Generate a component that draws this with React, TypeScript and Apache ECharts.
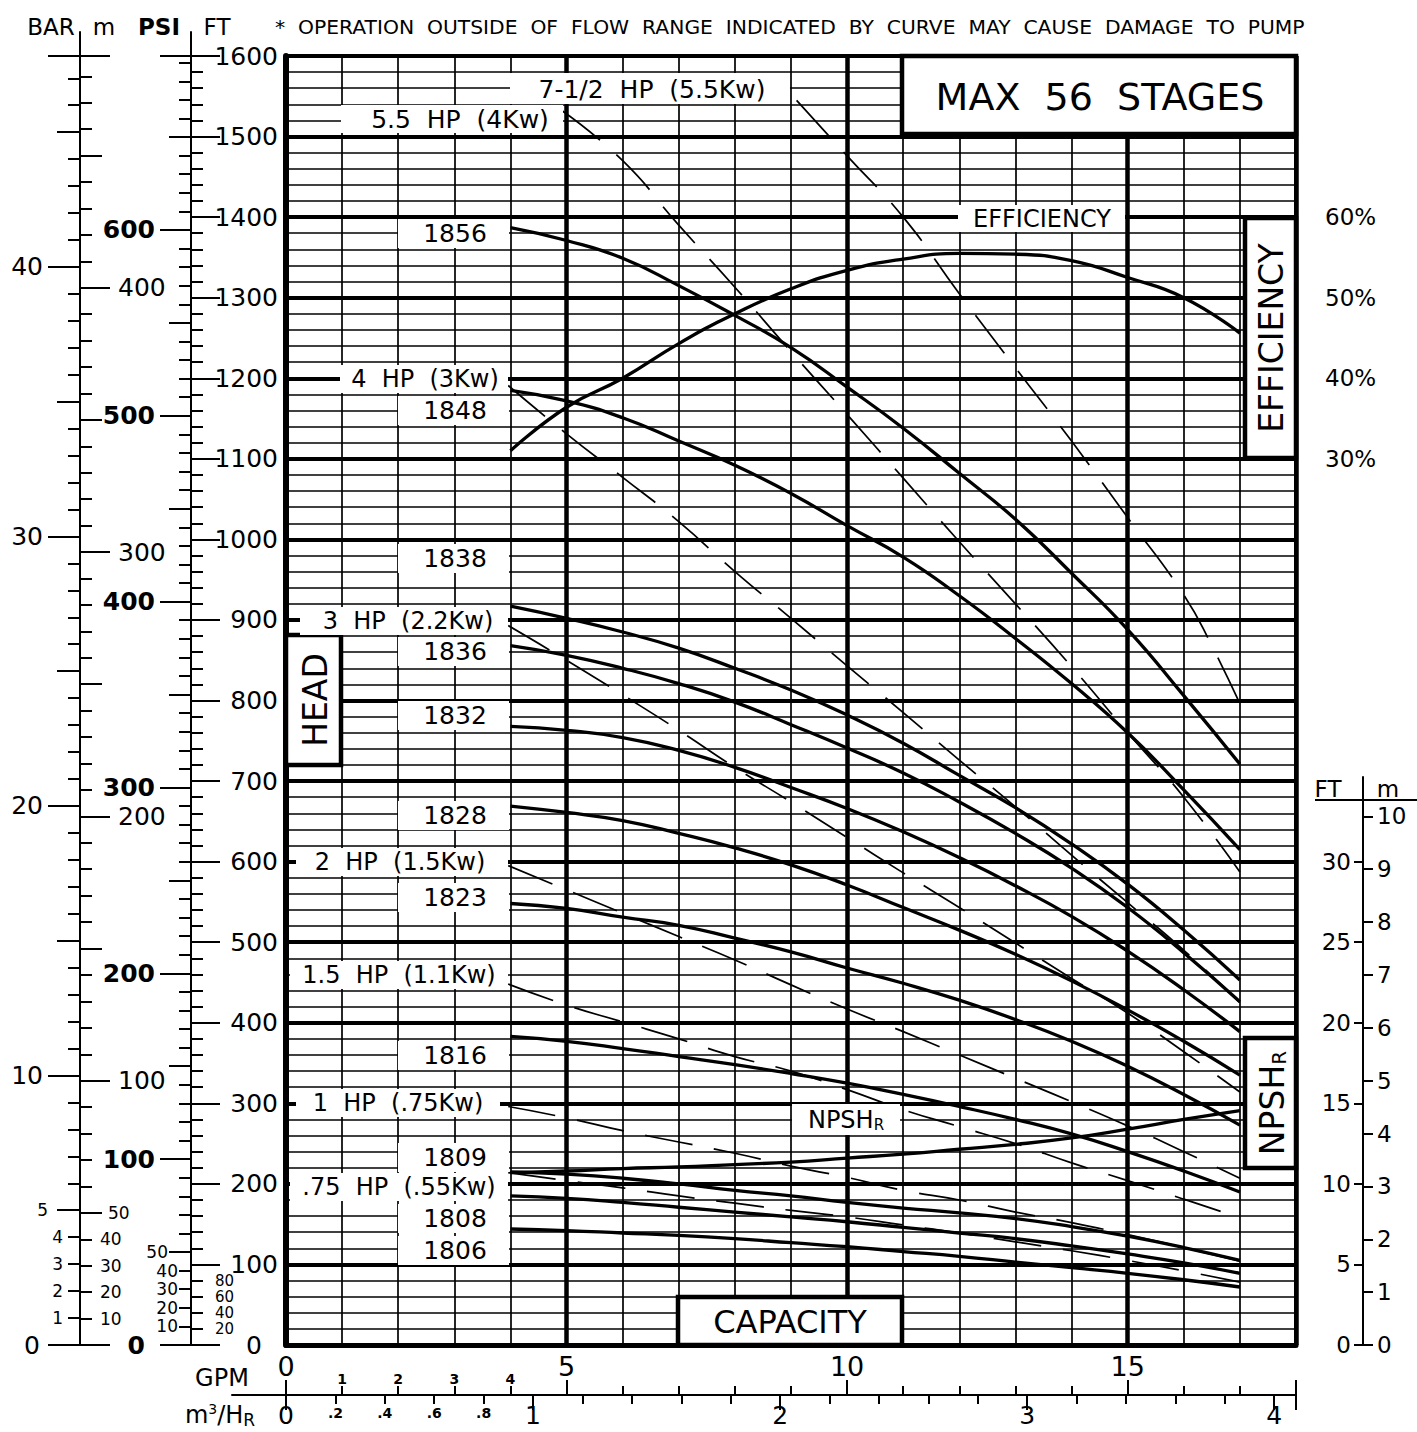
import React, { useEffect, useRef } from "react";
import * as echarts from "echarts";

// ---------------- data ----------------
const GPM_POINTS = [4, 5, 6, 7, 8, 9, 10, 11, 12, 13, 14, 15, 16, 17];
const HEAD_1856 = [1387, 1371, 1349, 1315, 1278, 1238, 1189, 1138, 1082, 1025, 958, 888, 806, 721];
const HEAD_1848 = [1185, 1172, 1151, 1122, 1092, 1057, 1017, 978, 930, 877, 821, 760, 689, 615];
const HEAD_1838 = [917, 902, 885, 865, 840, 813, 782, 747, 707, 667, 622, 572, 515, 453];
const HEAD_1836 = [868, 856, 840, 821, 798, 770, 741, 710, 674, 635, 592, 543, 487, 426];
const HEAD_1832 = [768, 763, 754, 738, 717, 692, 666, 637, 605, 570, 532, 489, 441, 389];
const HEAD_1828 = [669, 661, 651, 635, 617, 596, 571, 543, 515, 485, 452, 416, 377, 335];
const HEAD_1823 = [548, 542, 531, 521, 505, 488, 468, 449, 428, 404, 377, 346, 311, 273];
const HEAD_1816 = [383, 377, 368, 358, 348, 337, 325, 311, 296, 280, 262, 240, 216, 190];
const HEAD_1809 = [215, 212, 207, 200, 192, 185, 177, 170, 164, 157, 147, 135, 121, 105];
const HEAD_1808 = [185, 182, 177, 171, 165, 159, 153, 146, 139, 132, 123, 113, 102, 89];
const HEAD_1806 = [144, 142, 139, 136, 132, 127, 122, 116, 110, 103, 96, 89, 81, 72];
const EFFICIENCY_PCT = [31.0, 36.4, 40.0, 44.3, 48.0, 51.1, 53.4, 54.8, 55.5, 55.4, 54.6, 52.5, 50.0, 45.6];
const NPSHR_FT = [10.7, 10.8, 10.95, 11.05, 11.2, 11.35, 11.6, 11.85, 12.15, 12.45, 12.85, 13.4, 14.0, 14.55];

const HP_7_5_GPM = [9.1, 10, 11, 12, 13, 14, 15, 16, 16.5, 17];
const HP_7_5_FT = [1545, 1476, 1400, 1305, 1213, 1122, 1027, 931, 868, 796];
const HP_5_5_GPM = [4.92, 6, 7, 8, 9, 10, 11, 12, 13, 14, 15, 16, 17];
const HP_5_5_FT = [1532, 1470, 1390, 1313, 1233, 1155, 1076, 997, 920, 842, 760, 680, 587];
const HP_GPM = [3.96, 5, 6, 7, 8, 9, 10, 11, 12, 13, 14, 15, 16, 17];
const HP_4_FT = [1191, 1131, 1077, 1022, 960, 902, 843, 785, 726, 668, 608, 549, 490, 425];
const HP_3_FT = [893, 850, 807, 763, 717, 674, 630, 586, 543, 499, 455, 412, 364, 314];
const HP_2_FT = [595, 565, 536, 507, 478, 447, 417, 389, 360, 331, 302, 272, 240, 207];
const HP_1_5_FT = [448, 422, 401, 380, 358, 340, 317, 292, 271, 250, 226, 204, 181, 158];
const HP_1_FT = [296, 282, 266, 252, 238, 222, 208, 192, 180, 165, 152, 137, 121, 104];
const HP_0_75_FT = [214, 204, 195, 185, 176, 167, 159, 149, 139, 128, 117, 105, 92, 78];

// tick labels
const FT_SMALL_LABELS = [20, 40, 60, 80];
const PSI_SMALL_LABELS = [10, 20, 30, 40, 50];
const BAR_SMALL_LABELS = [1, 2, 3, 4, 5];
const M_SMALL_LABELS = [10, 20, 30, 40, 50];
const GPM_BIG_LABELS = [0, 5, 10, 15];
const GPM_SMALL_LABELS = [1, 2, 3, 4];
const M3H_BIG_LABELS = [0, 1, 2, 3, 4];
const M3H_SMALL_LABELS = [0.2, 0.4, 0.6, 0.8];
const EFF_LABELS = [30, 40, 50, 60];

// unit conversions
const FT_MAX = 1600;
const FT_PER_PSI = 2.3067;
const M_PER_FT = 0.3048;
const M_PER_BAR = 10.197;
const GPM_PER_M3H = 4.4029;
const GPM_MAX = 18;

const HEADER_NOTE = "*  OPERATION  OUTSIDE  OF  FLOW  RANGE  INDICATED  BY  CURVE  MAY  CAUSE  DAMAGE  TO  PUMP";

const FONT = "DejaVu Sans";
const BLACK = "#000";

const isInt = (v: number) => Math.abs(v - Math.round(v)) < 1e-6;

function buildOption() {
  const L = 286, T = 56, R = 1296, B = 1345;
  const PW = R - L, PH = B - T;
  const pxPerFt = PH / FT_MAX;
  const npshPx = pxPerFt * 20;

  const grid = [
    { left: L, top: T, width: PW, height: PH },
    { left: L, top: 32, width: PW, height: B - 32 },
    { left: 232, top: T, width: R - 232, height: PH },
    { left: L, top: 777, width: PW, height: B - 777 },
    { left: L, top: B - 30 * npshPx, width: PW, height: 30 * npshPx },
    { left: L, top: B - (10 / M_PER_FT) * npshPx, width: PW, height: (10 / M_PER_FT) * npshPx },
  ].map((g) => ({ ...g, show: false, containLabel: false, outerBoundsMode: "none" }));

  const base: any = {
    type: "value",
    min: 0,
    gridIndex: 0,
    axisLine: { show: false, onZero: false },
    axisTick: { show: false },
    axisLabel: { show: false },
    splitLine: { show: false },
    minorTick: { show: false },
    minorSplitLine: { show: false },
    splitArea: { show: false },
    silent: true,
  };
  const ax = (o: any) => ({ ...base, ...o });
  const lineOn = (w: number) => ({ show: true, onZero: false, lineStyle: { color: BLACK, width: w } });
  const tk = (len: number, inside: boolean) => ({ show: true, inside, length: len, lineStyle: { color: BLACK, width: 2 } });
  const lbl = (o: any) => ({
    show: true,
    color: BLACK,
    fontFamily: FONT,
    hideOverlap: false,
    showMinLabel: true,
    showMaxLabel: true,
    ...o,
  });
  const dummy = (gi: number) => ({ type: "value", gridIndex: gi, show: false, min: 0, max: 1 });

  const PSI_MAX = FT_MAX / FT_PER_PSI;
  const M_MAX = FT_MAX * M_PER_FT;
  const BAR_MAX = M_MAX / M_PER_BAR;

  const ftFmt = (v: number) => {
    if (!isInt(v)) return "";
    const r = Math.round(v);
    if (r === 0) return "{z|0}";
    if (r % 100 === 0) return `{b|${r}}`;
    return "";
  };
  const ftSmallFmt = (v: number) => {
    if (!isInt(v)) return "";
    const r = Math.round(v);
    return FT_SMALL_LABELS.includes(r) ? `${r}` : "";
  };
  const psiFmt = (v: number) => {
    if (!isInt(v)) return "";
    const r = Math.round(v);
    if (r === 0) return "{z|0}";
    if (r % 100 === 0) return `{b|${r}}`;
    if (r === 50) return "{m|50}";
    if (PSI_SMALL_LABELS.includes(r)) return `{s|${r}}`;
    return "";
  };
  const barFmt = (v: number) => {
    if (!isInt(v)) return "";
    const r = Math.round(v);
    if (r === 0) return "{z|0}";
    if (r % 10 === 0) return `{b|${r}}`;
    if (r === 5) return "{m|5}";
    if (BAR_SMALL_LABELS.includes(r)) return `{s|${r}}`;
    return "";
  };
  const mFmt = (v: number) => {
    if (!isInt(v)) return "";
    const r = Math.round(v);
    if (r === 0) return "";
    if (r % 100 === 0) return `{b|${r}}`;
    if (r === 50) return "{m|50}";
    if (M_SMALL_LABELS.includes(r)) return `{s|${r}}`;
    return "";
  };
  const gpmFmt = (v: number) => {
    if (!isInt(v)) return "";
    const r = Math.round(v);
    if (GPM_BIG_LABELS.includes(r)) return `{b|${r}}`;
    if (GPM_SMALL_LABELS.includes(r)) return `{s|${r}}`;
    return "";
  };
  const m3hFmt = (v: number) => {
    const r10 = Math.round(v * 10);
    if (Math.abs(v * 10 - r10) > 1e-6) return "";
    if (r10 % 10 === 0 && M3H_BIG_LABELS.includes(r10 / 10)) return `{b|${r10 / 10}}`;
    if (M3H_SMALL_LABELS.some((s) => Math.round(s * 10) === r10)) return `{s|.${r10}}`;
    return "";
  };

  const yAxis: any[] = [
    // 0 FT minor (main head scale)
    ax({
      position: "left", offset: 95, max: FT_MAX, interval: 20,
      axisLine: lineOn(2), axisTick: tk(12, true),
      axisLabel: lbl({
        inside: true, align: "right", margin: 87, formatter: ftFmt,
        rich: {
          b: { fontSize: 25, fontFamily: FONT },
          z: { fontSize: 25, fontFamily: FONT, padding: [0, 16, 0, 0] },
        },
      }),
      splitLine: { show: true, lineStyle: { color: BLACK, width: 1.7 } },
    }),
    // 1 FT major
    ax({ position: "left", offset: 95, max: FT_MAX, interval: 100, axisTick: tk(29, true),
      splitLine: { show: true, lineStyle: { color: BLACK, width: 4 } } }),
    // 2-4 PSI
    ax({
      position: "left", offset: 95, max: PSI_MAX, interval: 10, axisTick: tk(12, false),
      axisLabel: lbl({
        margin: 13, formatter: psiFmt,
        rich: {
          b: { fontSize: 25, fontWeight: "bold", fontFamily: FONT, padding: [0, 23, 0, 0] },
          z: { fontSize: 25, fontWeight: "bold", fontFamily: FONT, padding: [0, 33, 0, 0] },
          m: { fontSize: 17, lineHeight: 17, fontFamily: FONT, padding: [0, 10, 0, 0] },
          s: { fontSize: 17, lineHeight: 17, fontFamily: FONT },
        },
      }),
    }),
    ax({ position: "left", offset: 95, max: PSI_MAX, interval: 50, axisTick: tk(22, false) }),
    ax({ position: "left", offset: 95, max: PSI_MAX, interval: 100, axisTick: tk(31, false) }),
    // 5-7 BAR
    ax({
      position: "left", offset: 206, max: BAR_MAX, interval: 1, axisLine: lineOn(2), axisTick: tk(12, false),
      axisLabel: lbl({
        margin: 17, formatter: barFmt,
        rich: {
          b: { fontSize: 25, fontFamily: FONT, padding: [0, 20, 0, 0] },
          z: { fontSize: 25, fontFamily: FONT, padding: [0, 23, 0, 0] },
          m: { fontSize: 17, lineHeight: 17, fontFamily: FONT, padding: [0, 15, 0, 0] },
          s: { fontSize: 17, lineHeight: 17, fontFamily: FONT },
        },
      }),
    }),
    ax({ position: "left", offset: 206, max: BAR_MAX, interval: 5, axisTick: tk(23, false) }),
    ax({ position: "left", offset: 206, max: BAR_MAX, interval: 10, axisTick: tk(32, false) }),
    // 8-10 metres
    ax({
      position: "left", offset: 206, max: M_MAX, interval: 10, axisTick: tk(12, true),
      axisLabel: lbl({
        inside: true, align: "left", margin: 20, formatter: mFmt,
        rich: {
          b: { fontSize: 25, fontFamily: FONT, padding: [0, 0, 0, 18] },
          m: { fontSize: 17, lineHeight: 17, fontFamily: FONT, padding: [0, 0, 0, 8] },
          s: { fontSize: 17, lineHeight: 17, fontFamily: FONT },
        },
      }),
    }),
    ax({ position: "left", offset: 206, max: M_MAX, interval: 50, axisTick: tk(22, true) }),
    ax({ position: "left", offset: 206, max: M_MAX, interval: 100, axisTick: tk(30, true) }),
    // 11 efficiency (right border)
    ax({
      position: "right", offset: 0, min: -80, max: 80, interval: 10, axisLine: lineOn(4),
      axisLabel: lbl({
        margin: 29, fontSize: 23,
        formatter: (v: number) => (isInt(v) && EFF_LABELS.includes(Math.round(v)) ? `${Math.round(v)}%` : ""),
      }),
    }),
    // 12 NPSH hidden scale in main grid
    { type: "value", gridIndex: 0, show: false, min: 0, max: FT_MAX / 20 },
    // 13 left border
    ax({ position: "left", offset: 0, max: FT_MAX, axisLine: lineOn(6) }),
    // 14,15 axis line extensions
    ax({ gridIndex: 1, position: "left", offset: 95, max: 1, axisLine: lineOn(2) }),
    ax({ gridIndex: 1, position: "left", offset: 206, max: 1, axisLine: lineOn(2) }),
    // 16 dummy for grid 2
    dummy(2),
    // 17 NPSH axis line
    ax({ gridIndex: 3, position: "right", offset: 67, max: 1, axisLine: lineOn(2) }),
    // 18 NPSH ft
    ax({
      gridIndex: 4, position: "right", offset: 67, max: 30, interval: 5, axisTick: tk(9, true),
      axisLabel: lbl({ inside: true, align: "right", margin: 12, fontSize: 23 }),
    }),
    // 19 NPSH m
    ax({
      gridIndex: 5, position: "right", offset: 67, max: 10, interval: 1, axisTick: tk(10, false),
      axisLabel: lbl({ margin: 14, fontSize: 23 }),
    }),
    // 20 FT small labels near zero
    ax({
      position: "left", offset: 95, max: FT_MAX, interval: 20,
      axisLabel: lbl({
        inside: true, align: "right", margin: 43, fontSize: 15, lineHeight: 15,
        showMinLabel: false, formatter: ftSmallFmt,
      }),
    }),
  ];

  const M3H_MAX = GPM_MAX / GPM_PER_M3H;
  const xAxis: any[] = [
    // 0 GPM minor
    ax({
      position: "bottom", offset: 50, max: GPM_MAX, interval: 1, axisTick: tk(9, true),
      axisLabel: lbl({
        inside: true, margin: 9, formatter: gpmFmt,
        rich: {
          b: { fontSize: 27, fontFamily: FONT, padding: [0, 0, 6, 0] },
          s: { fontSize: 14, fontWeight: "bold", fontFamily: FONT },
        },
      }),
      splitLine: { show: true, lineStyle: { color: BLACK, width: 1.7 } },
    }),
    // 1 GPM major
    ax({ position: "bottom", offset: 50, max: GPM_MAX, interval: 5, axisTick: tk(15, true),
      splitLine: { show: true, lineStyle: { color: BLACK, width: 4.5 } } }),
    // 2 m3/h minor
    ax({
      position: "bottom", offset: 50, max: M3H_MAX, interval: 0.2, axisTick: tk(9, false),
      axisLabel: lbl({
        margin: 8, formatter: m3hFmt,
        rich: {
          b: { fontSize: 25, lineHeight: 25, fontFamily: FONT },
          s: { fontSize: 14, lineHeight: 14, fontWeight: "bold", fontFamily: FONT, padding: [6, 0, 0, 0] },
        },
      }),
    }),
    // 3 m3/h major
    ax({ position: "bottom", offset: 50, max: M3H_MAX, interval: 1, axisTick: tk(15, false) }),
    // 4 bottom border, 5 top border
    ax({ position: "bottom", offset: 0, max: GPM_MAX, axisLine: lineOn(5) }),
    ax({ position: "top", offset: 0, max: GPM_MAX, axisLine: lineOn(4) }),
    // 6 dummy grid1
    dummy(1),
    // 7 bottom axis line
    ax({ gridIndex: 2, position: "bottom", offset: 50, max: 1, axisLine: lineOn(2) }),
    dummy(3),
    dummy(4),
    dummy(5),
  ];

  const solid = (name: string, ys: number[], yAxisIndex = 0) => ({
    type: "line", name, xAxisIndex: 0, yAxisIndex,
    data: GPM_POINTS.map((g, i) => [g, ys[i]]),
    showSymbol: false, symbol: "none", smooth: 0.5, silent: true, z: 3,
    lineStyle: { color: BLACK, width: 3.3 },
  });
  const dashed = (name: string, xs: number[], ys: number[]) => ({
    type: "line", name, xAxisIndex: 0, yAxisIndex: 0,
    data: xs.map((g, i) => [g, ys[i]]),
    showSymbol: false, symbol: "none", smooth: 0.5, silent: true, z: 3,
    lineStyle: { color: BLACK, width: 1.7, type: [48, 22] },
  });

  const series: any[] = [
    solid("1856", HEAD_1856),
    solid("1848", HEAD_1848),
    solid("1838", HEAD_1838),
    solid("1836", HEAD_1836),
    solid("1832", HEAD_1832),
    solid("1828", HEAD_1828),
    solid("1823", HEAD_1823),
    solid("1816", HEAD_1816),
    solid("1809", HEAD_1809),
    solid("1808", HEAD_1808),
    solid("1806", HEAD_1806),
    solid("Efficiency", EFFICIENCY_PCT, 11),
    solid("NPSHr", NPSHR_FT, 12),
    dashed("7-1/2 HP", HP_7_5_GPM, HP_7_5_FT),
    dashed("5.5 HP", HP_5_5_GPM, HP_5_5_FT),
    dashed("4 HP", HP_GPM, HP_4_FT),
    dashed("3 HP", HP_GPM, HP_3_FT),
    dashed("2 HP", HP_GPM, HP_2_FT),
    dashed("1.5 HP", HP_GPM, HP_1_5_FT),
    dashed("1 HP", HP_GPM, HP_1_FT),
    dashed(".75 HP", HP_GPM, HP_0_75_FT),
  ];

  // ---------------- annotations ----------------
  const g: any[] = [];
  const ts = (text: string, size: number, extra: any = {}) => ({
    text, fontSize: size, fontFamily: FONT, fill: BLACK,
    align: "center", verticalAlign: "middle", textAlign: "center", textVerticalAlign: "middle",
    ...extra,
  });
  const rect = (x0: number, y0: number, x1: number, y1: number, border = 0) =>
    g.push({
      type: "rect", z: 5, silent: true,
      shape: { x: x0, y: y0, width: x1 - x0, height: y1 - y0 },
      style: { fill: "#fff", stroke: border ? BLACK : "none", lineWidth: border },
    });
  const text = (x: number, y: number, s: string, size: number, extra: any = {}) =>
    g.push({ type: "text", z: 6, silent: true, x, y, style: ts(s, size, extra) });
  const vtext = (x: number, y: number, style: any) =>
    g.push({ type: "group", x, y, rotation: Math.PI / 2, z: 6, silent: true,
      children: [{ type: "text", z: 6, silent: true, style }] });

  // header line
  text(275, 27, HEADER_NOTE, 20.3, { align: "left", textAlign: "left" });
  text(51, 27, "BAR", 23);
  text(104, 27, "m", 23);
  text(159, 27, "PSI", 23, { fontWeight: "bold" });
  text(217, 27, "FT", 23);

  // NPSH scale header
  text(1328, 789, "FT", 23);
  text(1388, 789, "m", 23);
  g.push({ type: "line", z: 6, silent: true, shape: { x1: 1315, y1: 800, x2: 1417, y2: 800 },
    style: { stroke: BLACK, lineWidth: 2 } });

  // bottom axis names
  text(222, 1378, "GPM", 24);
  g.push({
    type: "text", z: 6, silent: true, x: 220, y: 1415,
    style: {
      text: "{a|m}{p|3}{a|/H}{r|R}", fill: BLACK,
      align: "center", verticalAlign: "middle", textAlign: "center", textVerticalAlign: "middle",
      rich: {
        a: { fontSize: 24, lineHeight: 26, fontFamily: FONT, fill: BLACK },
        p: { fontSize: 14, lineHeight: 14, fontFamily: FONT, fill: BLACK, verticalAlign: "top" },
        r: { fontSize: 17, lineHeight: 18, fontFamily: FONT, fill: BLACK, verticalAlign: "bottom" },
      },
    },
  });

  // power labels at top
  rect(510, 73, 790, 104);
  text(652, 89, "7-1/2  HP  (5.5Kw)", 25);
  rect(341, 105, 563, 133);
  text(460, 119, "5.5  HP  (4Kw)", 25);

  // MAX STAGES box
  rect(902, 56, 1296, 134, 4.5);
  text(1100, 97, "MAX  56  STAGES", 38);

  // efficiency labels
  rect(958, 205, 1125, 232);
  text(1042, 219, "EFFICIENCY", 24);
  rect(1245, 218, 1296, 458, 4.5);
  vtext(1271, 338, ts("EFFICIENCY", 33));

  // HEAD / CAPACITY
  rect(286, 635, 341, 765, 4.5);
  vtext(315, 700, ts("HEAD", 33));
  rect(678, 1297, 902, 1345, 4.5);
  text(790, 1322, "CAPACITY", 32);

  // NPSHr labels
  const npshStyle = (big: number, small: number) => ({
    text: "{a|NPSH}{r|R}", fill: BLACK,
    align: "center", verticalAlign: "middle", textAlign: "center", textVerticalAlign: "middle",
    rich: {
      a: { fontSize: big, lineHeight: big, fontFamily: FONT, fill: BLACK },
      r: { fontSize: small, lineHeight: small, fontFamily: FONT, fill: BLACK, verticalAlign: "bottom" },
    },
  });
  rect(1245, 1038, 1296, 1168, 4.5);
  vtext(1272, 1103, npshStyle(33, 20));
  rect(792, 1104, 900, 1135);
  g.push({ type: "text", z: 6, silent: true, x: 846, y: 1120, style: npshStyle(24, 15) });

  // curve (model) labels
  const modelLabels: [string, number][] = [
    ["1856", 233], ["1848", 410], ["1838", 558], ["1836", 651], ["1832", 715], ["1828", 815],
    ["1823", 897], ["1816", 1055], ["1809", 1157], ["1808", 1218], ["1806", 1250],
  ];
  modelLabels.forEach(([s, cy]) => {
    rect(398, cy - 14, 509, cy + 15);
    text(455, cy, s, 25);
  });

  // motor labels on the left
  const hpLabels: [string, number, number, number, number][] = [
    ["4  HP  (3Kw)", 340, 508, 379, 425],
    ["3  HP  (2.2Kw)", 300, 508, 621, 408],
    ["2  HP  (1.5Kw)", 296, 508, 862, 400],
    ["1.5  HP  (1.1Kw)", 290, 508, 975, 399],
    ["1  HP  (.75Kw)", 296, 500, 1103, 398],
    [".75  HP  (.55Kw)", 290, 508, 1187, 399],
  ];
  hpLabels.forEach(([s, x0, x1, cy, tx]) => {
    rect(x0, cy - 14, x1, cy + 14);
    text(tx, cy, s, 24);
  });

  return {
    animation: false,
    backgroundColor: "#fff",
    textStyle: { fontFamily: FONT, color: BLACK },
    grid,
    xAxis,
    yAxis,
    series,
    graphic: { elements: g },
  };
}

export default function App() {
  const ref = useRef<HTMLDivElement>(null);
  useEffect(() => {
    if (!ref.current) return;
    const chart = echarts.init(ref.current, undefined, { renderer: "svg", width: 1417, height: 1432 });
    chart.setOption(buildOption() as any);
    return () => chart.dispose();
  }, []);
  return (
    <div
      ref={ref}
      style={{ position: "absolute", left: 0, top: 0, width: 1417, height: 1432, background: "#fff" }}
    />
  );
}
